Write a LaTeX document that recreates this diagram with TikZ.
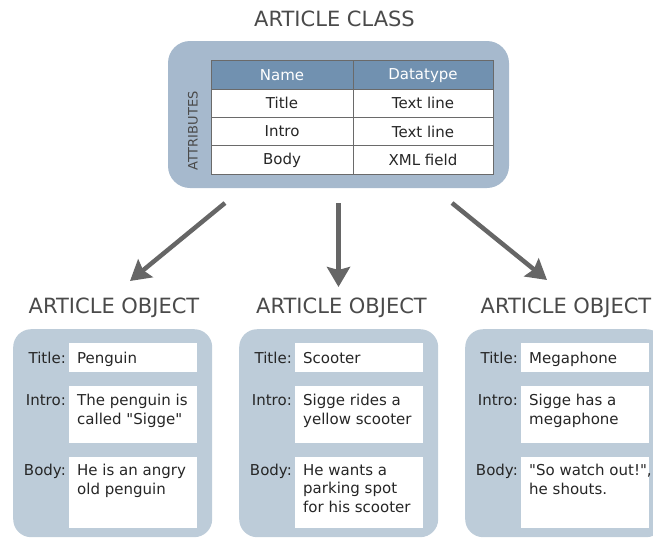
\documentclass[tikz,border=0pt]{standalone}
\usepackage{fontspec}
\setmainfont{DejaVu Sans}[Ligatures=TeXOff]
\usetikzlibrary{arrows.meta}
\definecolor{classfill}{HTML}{A6B9CD}
\definecolor{objfill}{HTML}{BDCCD9}
\definecolor{headfill}{HTML}{7191B0}
\definecolor{cellline}{HTML}{6A6A6A}
\definecolor{titlegrey}{HTML}{4A4A4A}
\definecolor{arrowgrey}{HTML}{666666}
\definecolor{labgrey}{HTML}{262626}
\begin{document}
\begin{tikzpicture}[x=1pt,y=-1pt,
  bigtitle/.style={text=titlegrey, font=\fontsize{21}{23}\selectfont, inner sep=0},
  classbox/.style={fill=classfill, rounded corners=22pt, inner sep=0, minimum width=341pt, minimum height=147pt},
  cellbox/.style={draw=cellline, line width=1pt, fill=white, inner sep=0, minimum height=28.25pt, text=labgrey, font=\fontsize{15}{16}\selectfont},
  headbox/.style={cellbox, fill=headfill, text=white},
  attrlabel/.style={rotate=90, text=titlegrey, font=\fontsize{13}{14}\selectfont, inner sep=0},
  bigarrow/.style={draw=arrowgrey, line width=4.5pt, -{Stealth[length=20pt, width=23pt, inset=3pt]}},
  objbox/.style={fill=objfill, rounded corners=18pt, minimum width=199pt, minimum height=208pt, inner sep=0, anchor=north west},
  fieldbox/.style={fill=white, inner sep=0, minimum width=128pt, anchor=north west},
  fieldtext/.style={anchor=north west, inner sep=0, align=left, text=labgrey, font=\fontsize{15}{18.5}\selectfont},
  fieldlabel/.style={anchor=north east, inner sep=0, align=right, text=labgrey, font=\fontsize{15}{18.5}\selectfont}
]
\useasboundingbox (0,0) rectangle (653,538);
\clip (0,0) rectangle (653,538);

% class
\node[bigtitle] (classtitle) at (334.5,19) {ARTICLE CLASS};
\node[classbox] (class) at (338.5,114.5) {};
\node[attrlabel] (attr) at (193,131) {ATTRIBUTES};

\node[headbox, minimum width=142pt] (h1) at (282,75.1) {Name};
\node[headbox, minimum width=140pt] (h2) at (423,75.1) {Datatype};
\node[cellbox, minimum width=142pt] (r1a) at (282,103.4) {Title};
\node[cellbox, minimum width=140pt] (r1b) at (423,103.4) {Text line};
\node[cellbox, minimum width=142pt] (r2a) at (282,131.6) {Intro};
\node[cellbox, minimum width=140pt] (r2b) at (423,131.6) {Text line};
\node[cellbox, minimum width=142pt] (r3a) at (282,159.9) {Body};
\node[cellbox, minimum width=140pt] (r3b) at (423,159.9) {XML field};

% arrows
\coordinate (a1s) at (225,203);
\coordinate (a1e) at (130,281);
\coordinate (a2s) at (338.5,203);
\coordinate (a2e) at (338.5,287);
\coordinate (a3s) at (452,203);
\coordinate (a3e) at (547,280);
\draw[bigarrow] (a1s) -- (a1e);
\draw[bigarrow] (a2s) -- (a2e);
\draw[bigarrow] (a3s) -- (a3e);

% objects
\foreach \i/\bx/\tx/\tt/\ti/\tb in {
  1/13/114/{Penguin}/{The penguin is\\called "Sigge"}/{He is an angry\\old penguin},
  2/239/341.5/{Scooter}/{Sigge rides a\\yellow scooter}/{He wants a\\parking spot\\for his scooter},
  3/465/566/{Megaphone}/{Sigge has a\\megaphone}/{"So watch out!",\\he shouts.}} {
  \node[bigtitle] (otitle\i) at (\tx,307.5) {ARTICLE OBJECT};
  \node[objbox] (obj\i) at (\bx,329) {};
  \node[fieldbox, minimum height=29pt] (ft\i) at (\bx+56,343) {};
  \node[fieldbox, minimum height=57pt] (fi\i) at (\bx+56,386) {};
  \node[fieldbox, minimum height=71pt] (fb\i) at (\bx+56,457) {};
  \node[fieldtext] (tt\i) at ([shift={(8,9)}]ft\i.north west) {\tt};
  \node[fieldtext] (ti\i) at ([shift={(8,8)}]fi\i.north west) {\ti};
  \node[fieldtext] (tb\i) at ([shift={(8,7)}]fb\i.north west) {\tb};
  \node[fieldlabel] (lt\i) at ([shift={(-3,9)}]ft\i.north west) {Title:};
  \node[fieldlabel] (li\i) at ([shift={(-3,8)}]fi\i.north west) {Intro:};
  \node[fieldlabel] (lb\i) at ([shift={(-3,7)}]fb\i.north west) {Body:};
}
\end{tikzpicture}
\end{document}
